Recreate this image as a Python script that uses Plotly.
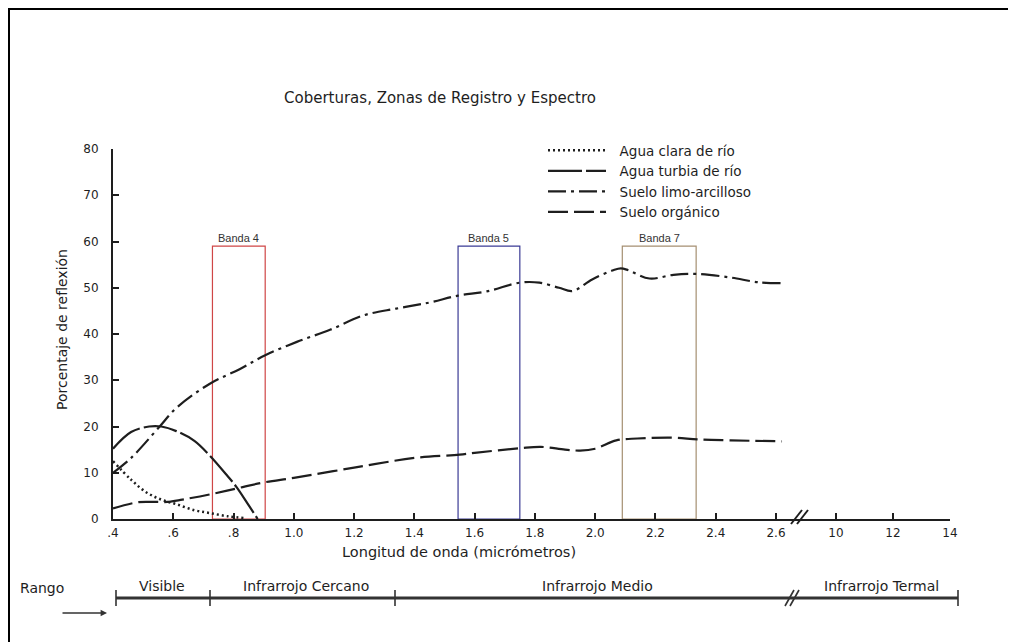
import plotly.graph_objects as go

# ---------------- data ----------------
wl_clara = [0.40, 0.46, 0.51, 0.56, 0.61, 0.67, 0.72, 0.78, 0.84]
r_clara = [12.5, 8.5, 5.8, 4.2, 3.2, 1.9, 1.3, 0.6, 0.2]

wl_turbia = [0.40, 0.46, 0.52, 0.56, 0.61, 0.67, 0.72, 0.78, 0.81, 0.85, 0.88]
r_turbia = [15.2, 18.8, 20.0, 20.0, 19.0, 16.9, 13.8, 9.3, 6.9, 3.0, 0.0]

wl_limo = [0.40, 0.46, 0.555, 0.61, 0.72, 0.82, 0.905, 1.01, 1.12, 1.23, 1.34, 1.45,
           1.545, 1.64, 1.75, 1.815, 1.88, 1.925, 1.99, 2.06, 2.085, 2.11, 2.18,
           2.26, 2.34, 2.45, 2.54, 2.62]
r_limo = [10.0, 13.2, 20.0, 24.0, 29.2, 32.4, 35.4, 38.3, 40.9, 44.0, 45.5, 46.8,
          48.3, 49.2, 51.1, 51.1, 50.0, 49.3, 51.8, 53.8, 54.2, 53.8, 52.0,
          52.8, 53.0, 52.2, 51.2, 51.0]

wl_org = [0.40, 0.48, 0.53, 0.58, 0.63, 0.72, 0.81, 0.90, 1.00, 1.20, 1.40, 1.55,
          1.60, 1.75, 1.82, 1.90, 1.95, 2.00, 2.07, 2.14, 2.26, 2.34, 2.45, 2.62]
r_org = [2.3, 3.6, 3.7, 3.7, 4.2, 5.3, 6.6, 7.9, 8.9, 11.1, 13.2, 13.9,
         14.3, 15.3, 15.6, 15.0, 14.8, 15.2, 17.0, 17.4, 17.6, 17.2, 17.0, 16.8]

series_names = ["Agua clara de río", "Agua turbia de río",
                "Suelo limo-arcilloso", "Suelo orgánico"]

band_names = ["Banda 4", "Banda 5", "Banda 7"]
band_start = [0.73, 1.545, 2.09]
band_end = [0.905, 1.75, 2.335]
band_top = [59, 59, 59]

x_ticks_1 = [0.4, 0.6, 0.8, 1.0, 1.2, 1.4, 1.6, 1.8, 2.0, 2.2, 2.4, 2.6]
x_ticklabels_1 = [".4", ".6", ".8", "1.0", "1.2", "1.4", "1.6", "1.8",
                  "2.0", "2.2", "2.4", "2.6"]
x_ticks_2 = [10, 12, 14]
x_ticklabels_2 = ["10", "12", "14"]
y_ticks = [0, 10, 20, 30, 40, 50, 60, 70, 80]

range_names = ["Visible", "Infrarrojo Cercano", "Infrarrojo Medio", "Infrarrojo Termal"]

# ---------------- layout helpers (screen pixel coordinates) ----------------
OFF = 8                      # page body margin
W, H = 1016 - OFF, 642 - OFF
L, R, T, B = 113, 950, 149, 519   # plot area on screen
PW, PH = R - L, B - T


def px(xs):
    return (xs - L) / PW


def py(ys):
    return (B - ys) / PH


FONT = "DejaVu Sans"
INK = "#1e1e1e"
BREAK = px(798)

fig = go.Figure()

styles = [
    dict(dash="2px,3px", width=2.5),
    dict(dash="34px,4px", width=2.2),
    dict(dash="18px,5px,3px,5px", width=2.2),
    dict(dash="20px,6px", width=2.2),
]
xs = [wl_clara, wl_turbia, wl_limo, wl_org]
ys = [r_clara, r_turbia, r_limo, r_org]
for name, xv, yv, st in zip(series_names, xs, ys, styles):
    fig.add_trace(go.Scatter(
        x=xv, y=yv, name="\u00a0\u00a0" + name, mode="lines", xaxis="x", yaxis="y",
        line=dict(color=INK, width=st["width"], dash=st["dash"],
                  shape="spline", smoothing=1.0),
    ))

# invisible trace to activate second x axis
fig.add_trace(go.Scatter(x=[10, 14], y=[None, None], xaxis="x2", yaxis="y",
                         showlegend=False, hoverinfo="skip"))

band_colors = ["#cf4646", "#3b3b95", "#a58f72"]
shapes = []
annotations = []
for nm, x0, x1, top, col in zip(band_names, band_start, band_end, band_top, band_colors):
    shapes.append(dict(type="rect", xref="x", yref="y", x0=x0, x1=x1, y0=0, y1=top,
                       line=dict(color=col, width=1.2), fillcolor="rgba(0,0,0,0)",
                       layer="below"))
    annotations.append(dict(xref="x", yref="y", x=(x0 + x1) / 2, y=top, text=nm,
                            showarrow=False, xanchor="center", yanchor="bottom", yshift=0,
                            font=dict(family="Liberation Sans", size=11, color="#333")))

# axis break marks "//"
for dx in (0, 6):
    shapes.append(dict(type="line", xref="paper", yref="paper",
                       x0=px(791 + dx), y0=py(524), x1=px(802 + dx), y1=py(510),
                       line=dict(color=INK, width=2)))

# range bar at the bottom
bar_y = py(598)
shapes.append(dict(type="line", xref="paper", yref="paper", x0=px(116), x1=px(958),
                   y0=bar_y, y1=bar_y, line=dict(color="#333", width=3)))
for xb in (116, 210, 395, 958):
    shapes.append(dict(type="line", xref="paper", yref="paper", x0=px(xb), x1=px(xb),
                       y0=py(590), y1=py(606), line=dict(color="#333", width=1.6)))
for dx in (0, 5):
    shapes.append(dict(type="line", xref="paper", yref="paper",
                       x0=px(785 + dx), y0=py(606), x1=px(794 + dx), y1=py(590),
                       line=dict(color="#333", width=1.6)))

# outer frame
shapes.append(dict(type="rect", xref="paper", yref="paper",
                   x0=px(9), x1=px(1011), y0=py(720), y1=py(9),
                   line=dict(color="black", width=2), fillcolor="rgba(0,0,0,0)"))

for nm, xc in zip(range_names, (162, 306, 597, 881)):
    annotations.append(dict(xref="paper", yref="paper", x=px(xc), y=py(586), text=nm,
                            showarrow=False, xanchor="center", yanchor="middle",
                            font=dict(family=FONT, size=14, color=INK)))
annotations.append(dict(xref="paper", yref="paper", x=px(42), y=py(588), text="Rango",
                        showarrow=False, xanchor="center", yanchor="middle",
                        font=dict(family=FONT, size=14, color=INK)))
annotations.append(dict(xref="paper", yref="paper", x=px(107), y=py(613), text="",
                        showarrow=True, axref="pixel", ayref="pixel", ax=-46, ay=0,
                        arrowhead=2, arrowsize=0.8, arrowwidth=1.6, arrowcolor="#333"))

# title and axis titles
annotations.append(dict(xref="paper", yref="paper", x=px(440), y=py(98),
                        text="Coberturas, Zonas de Registro y Espectro", showarrow=False,
                        xanchor="center", yanchor="middle",
                        font=dict(family=FONT, size=15, color=INK)))
annotations.append(dict(xref="paper", yref="paper", x=px(459), y=py(552),
                        text="Longitud de onda (micrómetros)", showarrow=False,
                        xanchor="center", yanchor="middle",
                        font=dict(family=FONT, size=14.5, color=INK)))
annotations.append(dict(xref="paper", yref="paper", x=px(62), y=py(330),
                        text="Porcentaje de reflexión", showarrow=False, textangle=-90,
                        xanchor="center", yanchor="middle",
                        font=dict(family=FONT, size=14, color=INK)))

axis_common = dict(showline=True, linecolor=INK, linewidth=2, ticks="inside",
                   ticklen=6, tickwidth=1.5, tickcolor=INK, showgrid=False,
                   zeroline=False, tickfont=dict(family=FONT, size=12, color=INK))

fig.update_layout(
    width=W, height=H,
    margin=dict(l=L - OFF, r=W - (R - OFF), t=T - OFF, b=H - (B - OFF)),
    paper_bgcolor="white", plot_bgcolor="white",
    showlegend=True,
    legend=dict(x=px(543), y=py(135), xanchor="left", yanchor="top",
                bgcolor="rgba(0,0,0,0)", itemwidth=58,
                font=dict(family=FONT, size=13.5, color=INK), tracegroupgap=0),
    xaxis=dict(domain=[0, BREAK], range=[0.4, 2.673], tickvals=x_ticks_1,
               ticktext=x_ticklabels_1, anchor="y", ticklabelstandoff=2, **axis_common),
    xaxis2=dict(domain=[BREAK, 1], range=[8.67, 14], tickvals=x_ticks_2,
                ticktext=x_ticklabels_2, anchor="y", ticklabelstandoff=2, **axis_common),
    yaxis=dict(range=[0, 80], tickvals=y_ticks, anchor="x", ticklabelstandoff=10,
               **axis_common),
    shapes=shapes, annotations=annotations,
)

fig.write_html("out.html")
